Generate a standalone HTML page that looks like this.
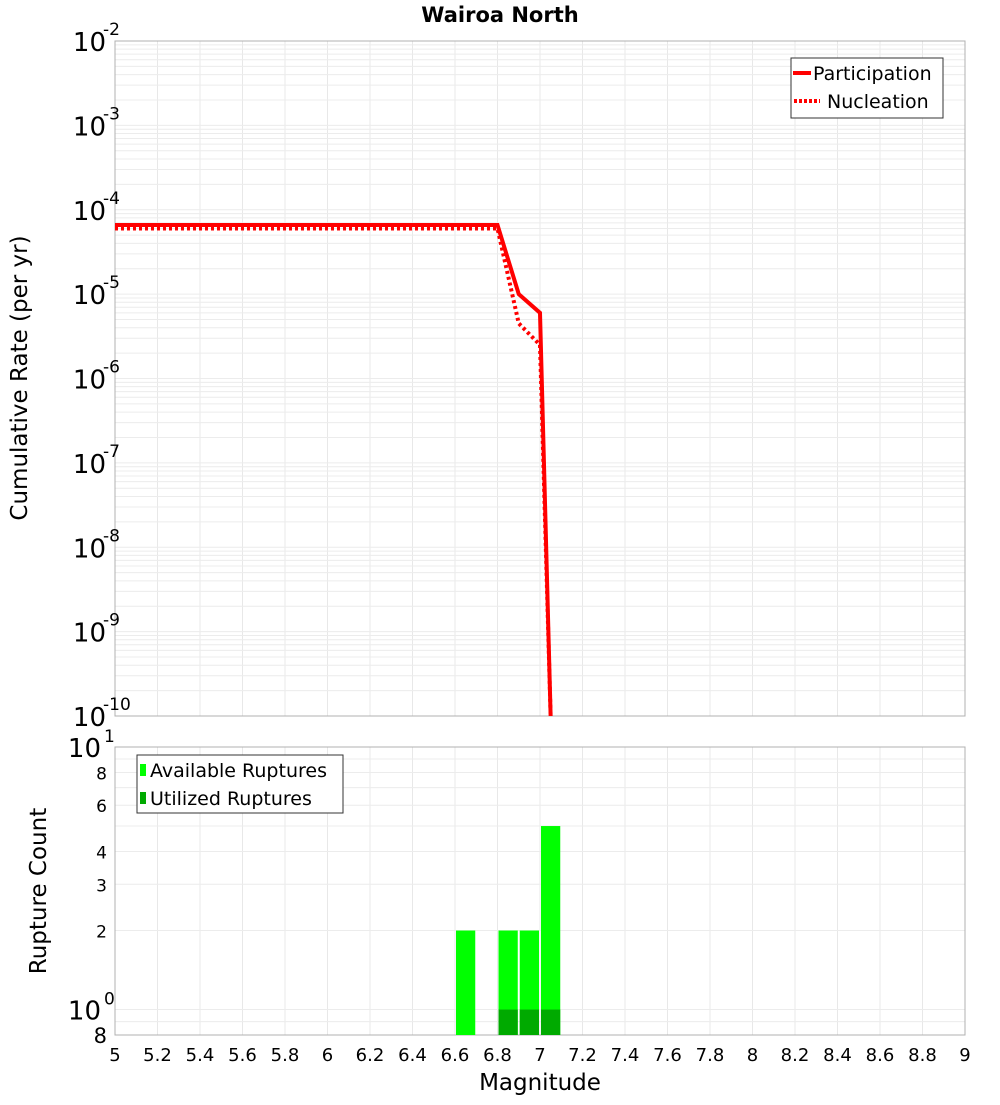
<!DOCTYPE html>
<html><head><meta charset="utf-8"><style>
html,body{margin:0;padding:0;background:#fff;}
svg text{font-family:"DejaVu Sans","Liberation Sans",sans-serif;fill:#000;}
</style></head><body>
<svg id="c" width="1000" height="1100" xmlns="http://www.w3.org/2000/svg"></svg>
<script>
const mags = [5.0, 6.8, 6.9, 7.0, 7.05];
const partRates = [6.6e-5, 6.6e-5, 1e-5, 6e-6, 1e-10];
const nuclRates = [6.0e-5, 6.0e-5, 4.5e-6, 2.5e-6, 1e-10];
const binCenters = [6.65, 6.85, 6.95, 7.05];
const availCounts = [2, 2, 2, 5];
const usedCounts = [0, 1, 1, 1];
const xTicks = [5,5.2,5.4,5.6,5.8,6,6.2,6.4,6.6,6.8,7,7.2,7.4,7.6,7.8,8,8.2,8.4,8.6,8.8,9];
const topExps = [-2,-3,-4,-5,-6,-7,-8,-9,-10];

const NS='http://www.w3.org/2000/svg';
const svg=document.getElementById('c');
function mk(t,a,p){const e=document.createElementNS(NS,t);for(const k in a)e.setAttribute(k,a[k]);(p||svg).appendChild(e);return e;}
const X0=115,X1=965;
const xs=m=>X0+(m-5)/4*(X1-X0);
const TY0=41,TY1=716;
const ty=v=>TY0+(-2-Math.log10(v))/8*(TY1-TY0);
const BY0=747,BY1=1035,BL=Math.log10(10),BLo=Math.log10(0.8);
const by=v=>BY0+(BL-Math.log10(v))/(BL-BLo)*(BY1-BY0);

const g=mk('g',{});


for(const t of xTicks){mk('line',{x1:xs(t),x2:xs(t),y1:TY0,y2:TY1,stroke:'#e8e8e8'},g);mk('line',{x1:xs(t),x2:xs(t),y1:BY0,y2:BY1,stroke:'#e8e8e8'},g);}
for(let e=-10;e<-2;e++)for(let k=1;k<10;k++){const y=ty(k*Math.pow(10,e));mk('line',{x1:X0,x2:X1,y1:y,y2:y,stroke:'#ececec'},g);}
for(const v of [0.8,0.9,1,2,3,4,5,6,7,8,9,10]){const y=by(v);mk('line',{x1:X0,x2:X1,y1:y,y2:y,stroke:'#ececec'},g);}

const f1=mk('rect',{x:X0,y:TY0,width:X1-X0,height:TY1-TY0,fill:'none',stroke:'#b0b0b0'});


const f2=mk('rect',{x:X0,y:BY0,width:X1-X0,height:BY1-BY0,fill:'none',stroke:'#b0b0b0'});



for(let i=0;i<binCenters.length;i++){
  const x=xs(binCenters[i]-0.05)+1,w=xs(binCenters[i]+0.05)-xs(binCenters[i]-0.05)-2;
  const yt=by(availCounts[i]);
  const r=mk('rect',{x:x,y:yt,width:w,height:BY1-yt,fill:'#00ff00'});
  
  
  if(usedCounts[i]>0){const yu=by(usedCounts[i]);const r2=mk('rect',{x:x,y:yu,width:w,height:BY1-yu,fill:'#00aa00'});
  
  }
}

const clip=mk('clipPath',{id:'cp'});mk('rect',{x:X0,y:TY0,width:X1-X0,height:TY1-TY0},clip);
const pl=mk('polyline',{points:mags.map((m,i)=>xs(m)+','+ty(nuclRates[i])).join(' '),fill:'none',stroke:'#ff0000','stroke-width':4,'stroke-dasharray':'3,3','clip-path':'url(#cp)'});


const pp=mk('polyline',{points:mags.map((m,i)=>xs(m)+','+ty(partRates[i])).join(' '),fill:'none',stroke:'#ff0000','stroke-width':4,'clip-path':'url(#cp)'});



for(const t of xTicks){const tx=mk('text',{x:xs(t),y:1061,'font-size':18,'text-anchor':'middle'});tx.textContent=String(t);

}
for(const e of topExps){const y=ty(Math.pow(10,e));const t=mk('text',{x:106,y:y+10,'font-size':26,'text-anchor':'end'});t.textContent='10';


const s=mk('text',{x:103,y:y-6,'font-size':17,'text-anchor':'start'});s.textContent=String(e);

}
const bl=[[10,'10','1'],[1,'10','0']];
for(const [v,b,ex] of bl){const y=by(v);const t=mk('text',{x:101,y:y+10,'font-size':26,'text-anchor':'end'});t.textContent=b;


const s=mk('text',{x:104,y:y-5,'font-size':17});s.textContent=ex;

}
for(const v of [8,6,4,3,2]){const t=mk('text',{x:107,y:by(v)+7,'font-size':17,'text-anchor':'end',fill:'#222'});t.textContent=String(v);

}
const t8=mk('text',{x:107,y:by(0.8)+8,'font-size':21,'text-anchor':'end'});t8.textContent='8';


</script>
<svg width="1000" height="1100" style="position:absolute;left:0;top:0" xmlns="http://www.w3.org/2000/svg">
<text x="500" y="22" font-size="21" font-weight="bold" text-anchor="middle">Wairoa North</text>
<text x="540" y="1090" font-size="23" text-anchor="middle">Magnitude</text>
<text transform="translate(27,378) rotate(-90)" font-size="23" text-anchor="middle">Cumulative Rate (per yr)</text>
<text transform="translate(46,891) rotate(-90)" font-size="23" text-anchor="middle">Rupture Count</text>
<g>
<rect x="791" y="58" width="152" height="60" fill="#fff" stroke="#333"/>
<line x1="793" y1="73" x2="811" y2="73" stroke="#f00" stroke-width="4"/>
<text x="813" y="80" font-size="19">Participation</text>
<line x1="794" y1="101" x2="820" y2="101" stroke="#f00" stroke-width="4" stroke-dasharray="3,2"/>
<text x="827" y="108" font-size="19">Nucleation</text>
</g>
<g>
<rect x="137" y="755" width="206" height="58" fill="#fff" stroke="#333"/>
<rect x="140" y="764" width="6" height="12" fill="#00ff00"/>
<text x="150" y="777" font-size="19">Available Ruptures</text>
<rect x="140" y="792" width="6" height="12" fill="#00aa00"/>
<text x="150" y="805" font-size="19">Utilized Ruptures</text>
</g>
</svg>
</body></html>
